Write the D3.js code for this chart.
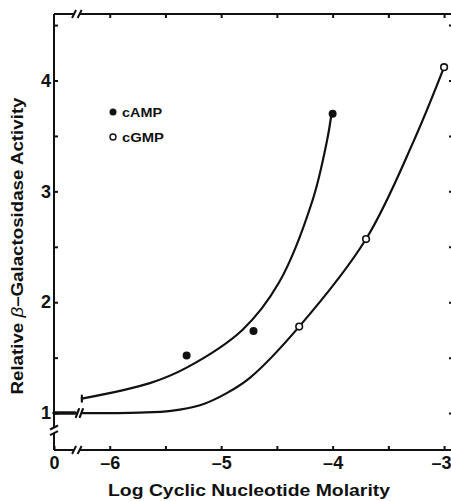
<!DOCTYPE html>
<html>
<head>
<meta charset="utf-8">
<script src="https://cdn.jsdelivr.net/npm/d3@7"></script>
<style>
body { margin: 0; background: #fff; }
text { font-family: "Liberation Sans", Arial, Helvetica, sans-serif; font-weight: bold; fill: #111; }
</style>
</head>
<body>
<div id="chart"></div>
<script>
// measured points (log molarity, relative activity)
var campX = [-5.31, -4.71, -4.0]
var campY = [1.52, 1.74, 3.70]
var cgmpX = [-4.30, -3.70, -3.0]
var cgmpY = [1.78, 2.57, 4.12]

// hand drawn curves
var campCurveX = [-6.25, -5.64, -5.31, -4.81, -4.48, -4.18, -4.05, -4.01]
var campCurveY = [1.13, 1.27, 1.41, 1.75, 2.18, 2.92, 3.46, 3.70]
var cgmpCurveX = [-6.25, -5.73, -5.45, -5.19, -4.95, -4.74, -4.30, -3.70, -3.27, -3.0]
var cgmpCurveY = [1.0, 1.005, 1.02, 1.07, 1.18, 1.32, 1.78, 2.57, 3.46, 4.12]

// no nucleotide added: both at ~1
var zeroX = [-6.5, -6.31]
var zeroY = 1.0

var xTicks = [-6, -5.5, -5, -4.5, -4, -3.5, -3]
var yTicks = [1, 1.5, 2, 2.5, 3, 3.5, 4, 4.5]
var xLabels = {"-6.5": "0", "-6": "\u20136", "-5": "\u20135", "-4": "\u20134", "-3": "\u20133"}
var yLabels = {"1": "1", "2": "2", "3": "3", "4": "4"}

var xMin = -6.5, xMax = -2.92, xBreak = -6.30
var yMin = 0.667, yMax = 4.6, yBreak = 0.84

var width = 451, height = 501
var svg = d3.select("#chart").append("svg")
    .attr("width", width)
    .attr("height", height)

/* Scale */
var x = d3.scaleLinear().domain([xMin, xMax]).range([54, 453])
var y = d3.scaleLinear().domain([yMin, yMax]).range([450, 14])

var ink = "#111"
var font = '"Liberation Sans", Arial, Helvetica, sans-serif'

/* Axes */
var bottom = svg.append("g")
    .attr("transform", `translate(0, ${y(yMin)})`)
    .call(d3.axisBottom(x).tickValues([xMin].concat(xTicks))
        .tickSizeInner(-4).tickSizeOuter(0).tickPadding(6)
        .tickFormat(d => xLabels[String(d)] || ""))
bottom.select(".domain").remove()
bottom.selectAll(".tick text").filter(d => d == -3).attr("dx", -3)

var top_ = svg.append("g")
    .attr("transform", `translate(0, ${y(yMax)})`)
    .call(d3.axisTop(x).tickValues(xTicks).tickSizeInner(-4).tickSizeOuter(0).tickFormat(""))
top_.select(".domain").remove()

var left = svg.append("g")
    .attr("transform", `translate(${x(xMin)}, 0)`)
    .call(d3.axisLeft(y).tickValues(yTicks)
        .tickSizeInner(-4).tickSizeOuter(0).tickPadding(3)
        .tickFormat(d => yLabels[String(d)] || ""))
left.select(".domain").remove()

var right = svg.append("g")
    .attr("transform", `translate(${x(xMax)}, 0)`)
    .call(d3.axisRight(y).tickValues(yTicks).tickSizeInner(-4).tickSizeOuter(0).tickFormat(""))
right.select(".domain").remove()

svg.selectAll(".tick line").style("stroke", ink).style("stroke-width", 2)
svg.selectAll(".tick text")
    .style("font-family", font)
    .style("font-weight", "bold")
    .style("font-size", "18px")
    .style("fill", ink)

// axis lines with breaks
var frame = svg.append("g").style("stroke", ink).style("stroke-width", 2).style("fill", "none")
frame.append("line").attr("x1", x(xMin)).attr("x2", x(xBreak - 0.02)).attr("y1", y(yMin)).attr("y2", y(yMin))
frame.append("line").attr("x1", x(xBreak + 0.03)).attr("x2", x(xMax)).attr("y1", y(yMin)).attr("y2", y(yMin))
frame.append("line").attr("x1", x(xMin)).attr("x2", x(xBreak - 0.02)).attr("y1", y(yMax)).attr("y2", y(yMax))
frame.append("line").attr("x1", x(xBreak + 0.03)).attr("x2", x(xMax)).attr("y1", y(yMax)).attr("y2", y(yMax))
frame.append("line").attr("x1", x(xMin)).attr("x2", x(xMin)).attr("y1", y(yMin)).attr("y2", y(yBreak - 0.02))
frame.append("line").attr("x1", x(xMin)).attr("x2", x(xMin)).attr("y1", y(yBreak + 0.03)).attr("y2", y(yMax))
frame.append("line").attr("x1", x(xMax)).attr("x2", x(xMax)).attr("y1", y(yMin)).attr("y2", y(yMax))

// break marks
var slash = (g, cx, cy, dx, dy) => g.append("line")
    .attr("x1", cx - dx).attr("y1", cy + dy).attr("x2", cx + dx).attr("y2", cy - dy)
;[xBreak - 0.02, xBreak + 0.03].forEach(v => {
    slash(frame, x(v), y(yMin), 2, 4)
    slash(frame, x(v), y(yMax), 2, 4)
})
;[yBreak - 0.02, yBreak + 0.03].forEach(v => slash(frame, x(xMin), y(v), 4, 2))

/* Data */
var line = d3.line()
    .curve(d3.curveCatmullRom.alpha(0.5))
    .x(d => x(d[0]))
    .y(d => y(d[1]))

var lines = svg.append("g").attr("class", "lines")
    .style("stroke", ink).style("stroke-width", 2.2).style("fill", "none")
    .style("stroke-linecap", "round")

lines.append("path").attr("d", line(d3.zip(campCurveX, campCurveY)))
lines.append("path").attr("d", line(d3.zip(cgmpCurveX, cgmpCurveY)))

// zero-concentration stub and its break
lines.append("line")
    .attr("x1", x(zeroX[0])).attr("x2", x(zeroX[1]))
    .attr("y1", y(zeroY)).attr("y2", y(zeroY))
    .style("stroke-width", 3.5)
;[-6.29, -6.255].forEach(v => slash(lines, x(v), y(zeroY), 1.5, 4))
lines.append("line")
    .attr("x1", x(campCurveX[0])).attr("x2", x(campCurveX[0]))
    .attr("y1", y(campCurveY[0]) - 3).attr("y2", y(campCurveY[0]) + 3)

var circles = svg.append("g").attr("class", "circles")
circles.selectAll(".camp")
    .data(d3.zip(campX, campY)).enter()
    .append("circle")
    .attr("cx", d => x(d[0]))
    .attr("cy", d => y(d[1]))
    .attr("r", 4)
    .style("fill", ink)
circles.selectAll(".cgmp")
    .data(d3.zip(cgmpX, cgmpY)).enter()
    .append("circle")
    .attr("cx", d => x(d[0]))
    .attr("cy", d => y(d[1]))
    .attr("r", 3.3)
    .style("fill", "#fff")
    .style("stroke", ink)
    .style("stroke-width", 1.6)

/* Legend */
var legend = svg.append("g").attr("transform", "translate(113, 112)")
legend.append("circle").attr("cx", 0).attr("cy", 0).attr("r", 3.5).style("fill", ink)
legend.append("text").attr("x", 9).attr("y", 4.5).style("font-size", "13px")
    .attr("textLength", 40).attr("lengthAdjust", "spacingAndGlyphs").text("cAMP")
legend.append("circle").attr("cx", 0).attr("cy", 25).attr("r", 3).style("fill", "#fff")
    .style("stroke", ink).style("stroke-width", 1.4)
legend.append("text").attr("x", 9).attr("y", 29.5).style("font-size", "13px")
    .attr("textLength", 42).attr("lengthAdjust", "spacingAndGlyphs").text("cGMP")

/* Titles */
svg.append("text")
    .attr("x", 249).attr("y", 496)
    .attr("text-anchor", "middle")
    .style("font-size", "16px")
    .attr("textLength", 282).attr("lengthAdjust", "spacingAndGlyphs")
    .text("Log Cyclic Nucleotide Molarity")

var yt = svg.append("text")
    .attr("transform", "translate(23, 246) rotate(-90)")
    .attr("text-anchor", "middle")
    .style("font-size", "16px")
    .attr("textLength", 297).attr("lengthAdjust", "spacingAndGlyphs")
yt.append("tspan").text("Relative ")
yt.append("tspan").style("font-style", "italic").style("font-weight", "normal").text("\u03B2")
yt.append("tspan").text("\u2013Galactosidase Activity")
</script>
</body>
</html>
